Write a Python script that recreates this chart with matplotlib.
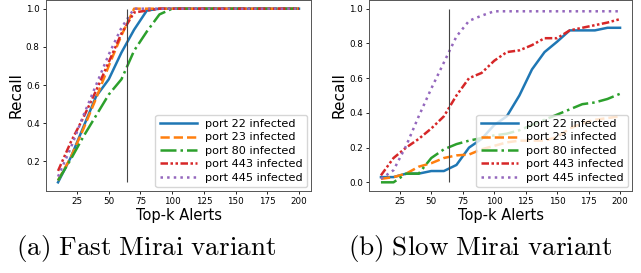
import numpy as np
import matplotlib
matplotlib.use("Agg")
import matplotlib.pyplot as plt

plt.rcParams['mathtext.fontset'] = 'cm'

# Top-k alert budget
topk = [10, 20, 30, 40, 50, 60, 70, 80, 90, 100,
        110, 120, 130, 140, 150, 160, 170, 180, 190, 200]

labels = ["port 22 infected", "port 23 infected", "port 80 infected",
          "port 443 infected", "port 445 infected"]

# (a) fast Mirai variant
fast_22 = [0.09, 0.22, 0.38, 0.54, 0.63, 0.77, 0.89, 0.99, 1.0, 1.0,
           1.0, 1.0, 1.0, 1.0, 1.0, 1.0, 1.0, 1.0, 1.0, 1.0]
fast_23 = [0.10, 0.22, 0.37, 0.53, 0.70, 0.86, 1.0, 1.0, 1.0, 1.0,
           1.0, 1.0, 1.0, 1.0, 1.0, 1.0, 1.0, 1.0, 1.0, 1.0]
fast_80 = [0.10, 0.21, 0.33, 0.44, 0.55, 0.63, 0.78, 0.88, 0.97, 1.0,
           1.0, 1.0, 1.0, 1.0, 1.0, 1.0, 1.0, 1.0, 1.0, 1.0]
fast_443 = [0.15, 0.30, 0.43, 0.57, 0.72, 0.87, 0.98, 0.99, 1.0, 1.0,
            1.0, 1.0, 1.0, 1.0, 1.0, 1.0, 1.0, 1.0, 1.0, 1.0]
fast_445 = [0.12, 0.27, 0.44, 0.60, 0.76, 0.90, 1.0, 1.0, 1.0, 1.0,
            1.0, 1.0, 1.0, 1.0, 1.0, 1.0, 1.0, 1.0, 1.0, 1.0]

# (b) slow Mirai variant
slow_22 = [0.03, 0.03, 0.05, 0.05, 0.065, 0.065, 0.10, 0.20, 0.25, 0.33,
           0.38, 0.50, 0.65, 0.75, 0.81, 0.875, 0.875, 0.875, 0.89, 0.89]
slow_23 = [0.02, 0.03, 0.05, 0.09, 0.11, 0.14, 0.155, 0.16, 0.19, 0.21,
           0.23, 0.24, 0.24, 0.24, 0.26, 0.31, 0.34, 0.36, 0.37, 0.38]
slow_80 = [0.0, 0.0, 0.05, 0.05, 0.14, 0.19, 0.22, 0.24, 0.255, 0.27,
           0.28, 0.30, 0.33, 0.36, 0.39, 0.42, 0.45, 0.46, 0.48, 0.51]
slow_443 = [0.04, 0.14, 0.20, 0.25, 0.31, 0.38, 0.50, 0.60, 0.63, 0.70,
            0.75, 0.76, 0.79, 0.83, 0.83, 0.875, 0.89, 0.905, 0.92, 0.94]
slow_445 = [0.02, 0.07, 0.21, 0.38, 0.54, 0.69, 0.84, 0.93, 0.96, 0.985,
            0.985, 0.985, 0.985, 0.985, 0.985, 0.985, 0.985, 0.985, 0.985, 0.985]

cutoff = 64

styles = ['-', '--', '-.', (0, (3, 1, 1, 1, 1, 1)), ':']
colors = ['C0', 'C1', 'C2', 'C3', 'C4']

fig = plt.figure(figsize=(6.41, 2.73), dpi=100)
ax_a = fig.add_axes([46/641, 82/273, 265/641, 191/273])
ax_b = fig.add_axes([369/641, 82/273, 263/641, 191/273])


def draw_panel(ax, series):
    for vals, lab, ls, c in zip(series, labels, styles, colors):
        ax.plot(topk, vals, linestyle=ls, color=c, lw=1.8, label=lab)
    lo = min(min(v) for v in series)
    ax.vlines(cutoff, lo, 1.0, color='#444444', lw=0.8)
    ax.set_xticks([25, 50, 75, 100, 125, 150, 175, 200])
    ax.tick_params(labelsize=6.3, length=2.5, width=0.6, pad=2)
    ax.set_xlabel("Top-k Alerts", fontsize=10.5, labelpad=1)
    ax.set_ylabel("Recall", fontsize=11, labelpad=2)
    ax.legend(loc='lower right', fontsize=8.1, handlelength=3.3,
              handletextpad=0.7, labelspacing=0.3, borderaxespad=0.35)
    for sp in ax.spines.values():
        sp.set_linewidth(0.7)
        sp.set_color('#555555')


draw_panel(ax_a, [fast_22, fast_23, fast_80, fast_443, fast_445])
draw_panel(ax_b, [slow_22, slow_23, slow_80, slow_443, slow_445])

fig.text(146/641, 1 - 248/273, r"$\mathrm{(a)\ Fast\ Mirai\ variant}$",
         ha='center', va='center', fontsize=19.5)
fig.text(480/641, 1 - 248/273, r"$\mathrm{(b)\ Slow\ Mirai\ variant}$",
         ha='center', va='center', fontsize=19.5)

fig.savefig("out.png", dpi=100)
